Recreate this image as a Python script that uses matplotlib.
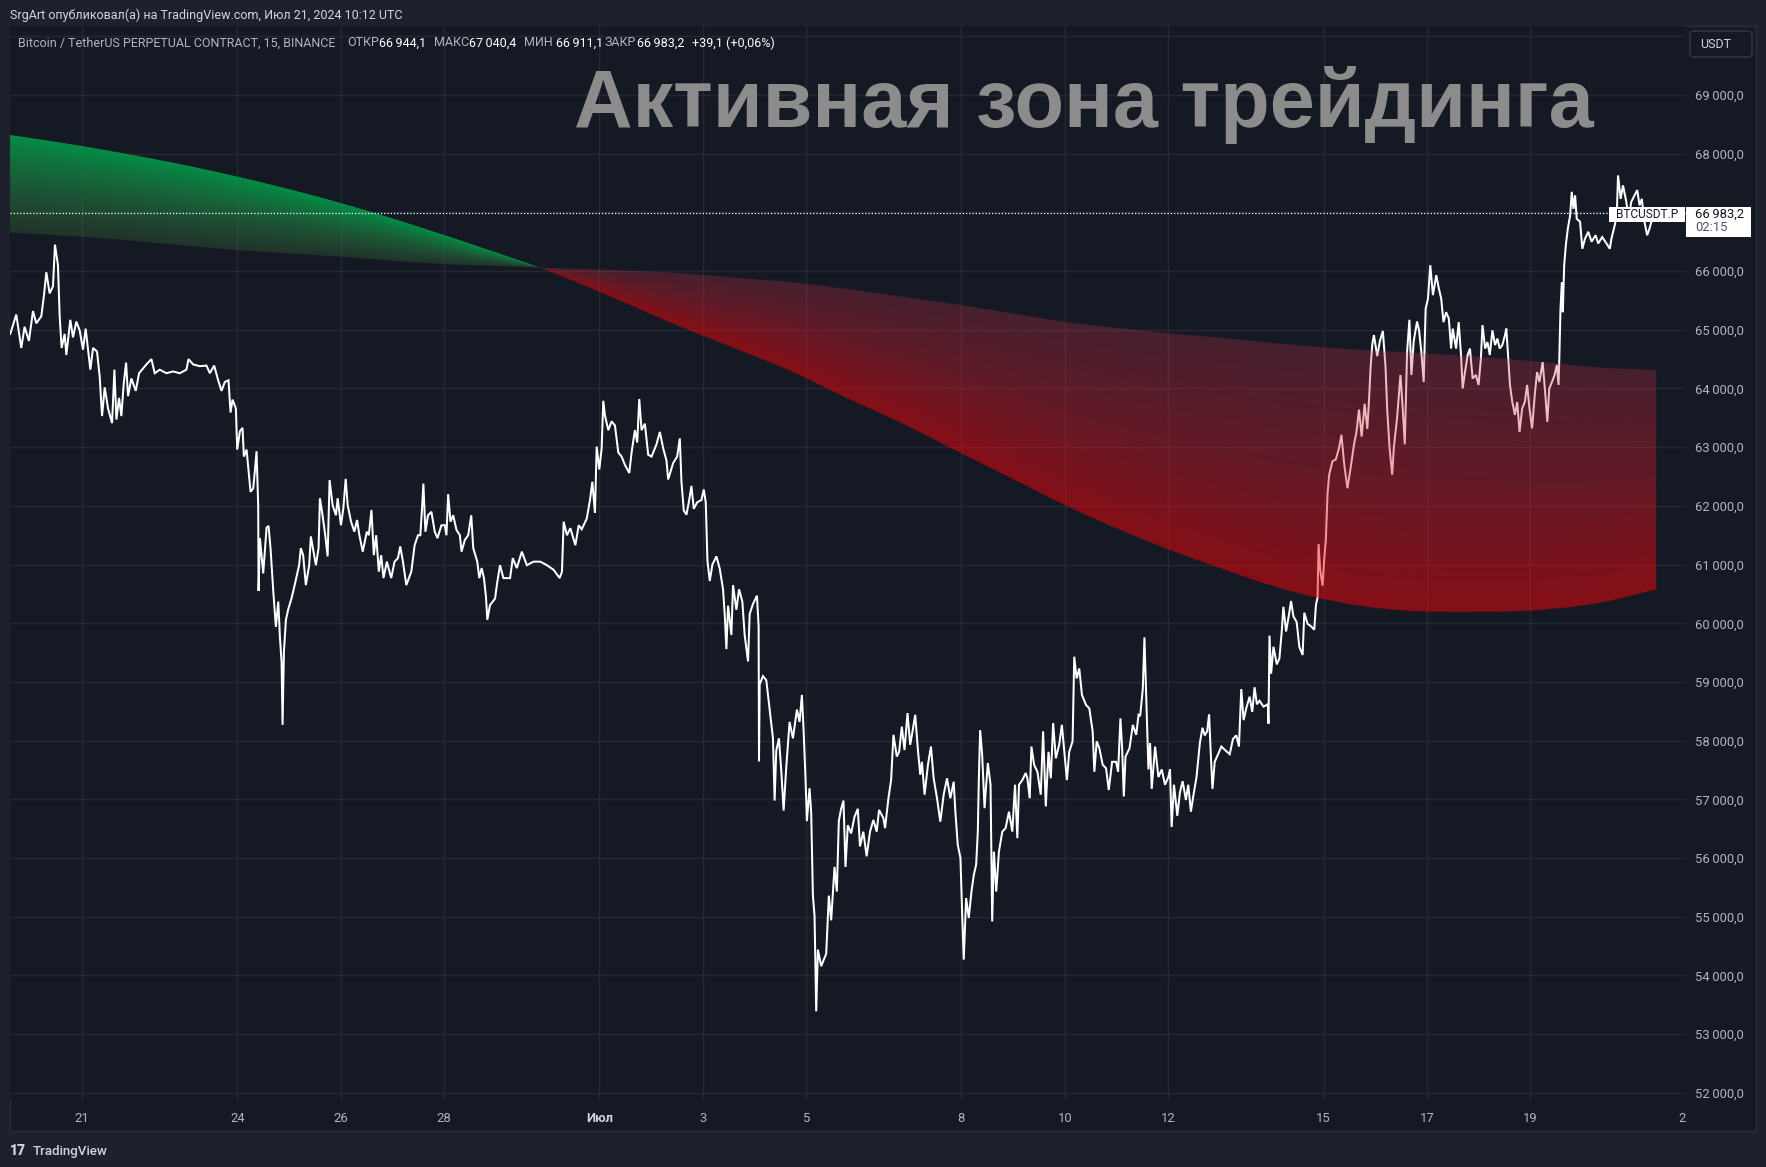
import numpy as np
import matplotlib
matplotlib.use("Agg")
import matplotlib.pyplot as plt
from matplotlib.patches import Rectangle, FancyBboxPatch
from matplotlib.ticker import FixedLocator, FuncFormatter

W, H = 1766, 1167

# BTCUSDT.P 15m closes; x = day counted from 1 June 2024 (Jul 1 = 31)
days_a = [19.613, 19.665, 19.729, 19.826, 19.890, 19.974, 20.052, 20.116, 20.213, 20.265,
          20.310, 20.374, 20.439, 20.477, 20.535, 20.568, 20.606, 20.665, 20.697, 20.774,
          20.826, 20.890, 20.955, 21.019, 21.071, 21.161, 21.213, 21.290, 21.342, 21.387,
          21.439, 21.503, 21.581, 21.626, 21.665, 21.716, 21.761, 21.806, 21.852, 21.890,
          21.955, 22.039, 22.103, 22.245, 22.342, 22.406, 22.503, 22.632, 22.761, 22.890,
          23.019, 23.058, 23.148, 23.277, 23.406, 23.471, 23.555, 23.632, 23.697, 23.761,
          23.832, 23.871, 23.910, 23.974, 24.000, 24.052, 24.103, 24.129, 24.181, 24.213,
          24.258, 24.310, 24.342, 24.374, 24.406, 24.413, 24.439, 24.503, 24.568, 24.606,
          24.645, 24.697, 24.748, 24.794, 24.826, 24.858, 24.877, 24.903, 24.942, 24.987,
          25.052, 25.116]
close_a = [64930, 65080, 65260, 64690, 65050, 64810, 65320, 65110, 65230, 65590,
           65980, 65620, 65740, 66450, 66100, 65230, 64690, 64930, 64570, 65170,
           64870, 65140, 64990, 64660, 65020, 64320, 64690, 64630, 64200, 63530,
           64020, 63660, 63410, 64320, 63470, 63840, 63530, 64080, 64440, 63870,
           64170, 63960, 64260, 64410, 64500, 64260, 64320, 64260, 64290, 64260,
           64320, 64500, 64410, 64380, 64390, 64260, 64390, 64140, 63960, 64110,
           64140, 63590, 63810, 63660, 62960, 63270, 63330, 62840, 62960, 62660,
           62240, 62300, 62600, 62930, 62000, 60550, 61450, 60850, 61630, 61660,
           61270, 60550, 59940, 60370, 59760, 59340, 58270, 59520, 60060, 60240,
           60430, 60670]

days_b = [25.197, 25.230, 25.275, 25.327, 25.392, 25.424, 25.476, 25.521, 25.573, 25.599,
          25.650, 25.702, 25.748, 25.786, 25.845, 25.909, 25.942, 26.006, 26.052, 26.097,
          26.136, 26.201, 26.265, 26.317, 26.362, 26.427, 26.505, 26.544, 26.595, 26.641,
          26.686, 26.738, 26.783, 26.828, 26.893, 26.977, 27.042, 27.107, 27.152, 27.204,
          27.269, 27.366, 27.430, 27.495, 27.540, 27.573, 27.599, 27.638, 27.689, 27.754,
          27.819, 27.871, 27.948, 28.013, 28.045, 28.078, 28.123, 28.175, 28.239, 28.304,
          28.337, 28.401, 28.466, 28.524, 28.563, 28.641, 28.680, 28.725, 28.770, 28.809,
          28.835, 28.887, 28.984, 29.029, 29.081, 29.146, 29.275, 29.327, 29.405, 29.502,
          29.599, 29.728, 29.858, 29.987, 30.117, 30.233, 30.278, 30.311, 30.375, 30.440,
          30.537, 30.602]
close_b = [60990, 61280, 61160, 60650, 60990, 61480, 61220, 60990, 61280, 62130,
           61840, 61500, 61140, 62440, 62010, 61840, 62130, 61670, 61960, 62460,
           62010, 61730, 61560, 61760, 61500, 61220, 61560, 61500, 61930, 61160,
           61500, 60880, 61160, 60770, 61050, 60770, 61050, 61110, 61310, 61050,
           60650, 60880, 61330, 61500, 61500, 61960, 62380, 61560, 61840, 61900,
           61560, 61450, 61670, 61670, 61500, 62200, 61730, 61840, 61590, 61500,
           61220, 61420, 61500, 61840, 61280, 61050, 60770, 60940, 60770, 60450,
           60060, 60310, 60420, 60710, 60990, 60770, 60770, 61110, 60940, 61220,
           60990, 61050, 61050, 60990, 60910, 60770, 60880, 61730, 61500, 61620,
           61330, 61670]

days_c = [30.659, 30.756, 30.820, 30.865, 30.916, 30.949, 31.000, 31.045, 31.077, 31.109,
          31.174, 31.238, 31.302, 31.367, 31.431, 31.495, 31.579, 31.624, 31.688, 31.733,
          31.772, 31.817, 31.881, 31.945, 32.010, 32.106, 32.170, 32.235, 32.299, 32.331,
          32.428, 32.505, 32.556, 32.588, 32.633, 32.685, 32.730, 32.781, 32.826, 32.891,
          32.974, 33.019, 33.058, 33.090, 33.135, 33.186, 33.264, 33.328, 33.392, 33.424,
          33.457, 33.489, 33.553, 33.585, 33.650, 33.701, 33.765, 33.810, 33.875, 33.907,
          33.971, 34.048, 34.080, 34.087, 34.100, 34.164, 34.228, 34.293, 34.357, 34.389,
          34.421, 34.473, 34.518, 34.563, 34.614, 34.678, 34.743, 34.820, 34.871, 34.916,
          34.949, 34.987, 35.013, 35.064, 35.096, 35.129, 35.161, 35.193, 35.225, 35.289,
          35.354, 35.386, 35.437, 35.482, 35.547, 35.592, 35.630, 35.675, 35.720, 35.759,
          35.804, 35.868, 35.932, 35.997]
close_c = [61600, 61780, 62100, 62410, 61880, 63010, 62620, 62980, 63790, 63540,
           63290, 63440, 63370, 62910, 62840, 62700, 62560, 62910, 63290, 63080,
           63820, 63290, 63400, 62870, 62840, 63050, 63260, 62980, 62770, 62450,
           62730, 62840, 63150, 62410, 61920, 61850, 62060, 62340, 61950, 62060,
           62100, 62280, 62060, 61070, 60720, 61000, 61140, 60930, 60580, 60160,
           59560, 60300, 59800, 60650, 60230, 60580, 60370, 59800, 59350, 60160,
           60330, 60470, 59940, 57650, 58960, 59100, 59030, 58530, 58040, 56980,
           57830, 58040, 57480, 56810, 57550, 58320, 58040, 58530, 58320, 58780,
           58180, 57330, 56630, 57190, 56770, 55360, 55010, 53390, 54440, 54160,
           54300, 54370, 55360, 54940, 55850, 55430, 56630, 56840, 56980, 55850,
           56560, 56420, 56700, 56840]

days_d = [36.039, 36.104, 36.168, 36.233, 36.298, 36.362, 36.408, 36.492, 36.524, 36.589,
          36.641, 36.686, 36.751, 36.796, 36.848, 36.900, 36.958, 37.010, 37.055, 37.107,
          37.159, 37.204, 37.236, 37.288, 37.353, 37.411, 37.463, 37.528, 37.592, 37.657,
          37.722, 37.786, 37.851, 37.883, 37.929, 37.981, 38.013, 38.045, 38.091, 38.142,
          38.194, 38.239, 38.285, 38.317, 38.337, 38.362, 38.401, 38.447, 38.479, 38.511,
          38.563, 38.595, 38.628, 38.673, 38.725, 38.790, 38.854, 38.919, 38.984, 39.036,
          39.081, 39.113, 39.178, 39.243, 39.275, 39.320, 39.353, 39.405, 39.469, 39.534,
          39.579, 39.631, 39.683, 39.728, 39.773, 39.825, 39.890, 39.942, 39.994, 40.039,
          40.084, 40.149, 40.181, 40.227, 40.278, 40.330, 40.408, 40.472, 40.537, 40.570,
          40.615, 40.667, 40.731, 40.796, 40.848, 40.913, 40.990, 41.029, 41.074, 41.107,
          41.139, 41.172, 41.249, 41.314, 41.379, 41.424]
close_d = [56200, 56450, 56030, 56450, 56650, 56450, 56820, 56680, 56510, 57020,
           57330, 58100, 57730, 57810, 58240, 57840, 58470, 57930, 58160, 58440,
           57840, 57420, 57640, 57080, 57590, 57900, 57360, 57020, 56620, 57080,
           57360, 57020, 57300, 56790, 56230, 56000, 55090, 54270, 55320, 54980,
           55430, 55710, 55890, 56450, 57360, 58180, 57760, 56850, 57250, 57620,
           57250, 54920, 56110, 55430, 56110, 56450, 56510, 56790, 56450, 57250,
           56340, 57250, 57330, 57450, 57360, 57020, 57900, 57590, 57470, 57080,
           58160, 56880, 57810, 57360, 58300, 57700, 57930, 58270, 57760, 57330,
           57810, 57990, 59430, 59060, 59230, 58780, 58610, 58550, 58160, 57470,
           57990, 57870, 57590, 57530, 57160, 57640, 57640, 57470, 58380, 57870,
           57050, 57730, 57870, 58270, 58100, 58440]

days_e = [41.455, 41.506, 41.538, 41.571, 41.615, 41.647, 41.679, 41.744, 41.808, 41.872,
          41.936, 42.000, 42.032, 42.064, 42.109, 42.173, 42.224, 42.276, 42.340, 42.385,
          42.436, 42.481, 42.545, 42.609, 42.660, 42.705, 42.750, 42.788, 42.814, 42.853,
          42.897, 42.962, 43.026, 43.109, 43.186, 43.250, 43.314, 43.365, 43.410, 43.455,
          43.506, 43.571, 43.622, 43.667, 43.712, 43.763, 43.840, 43.923, 43.936, 43.955,
          43.987, 44.032, 44.096, 44.147, 44.192, 44.224, 44.276, 44.327, 44.372, 44.417,
          44.481, 44.532, 44.596, 44.628, 44.692, 44.756, 44.821, 44.853, 44.885, 44.904,
          44.936, 44.981, 45.013, 45.045, 45.077, 45.109, 45.173, 45.237, 45.301, 45.346,
          45.397, 45.462, 45.526, 45.590, 45.635, 45.686, 45.737, 45.795, 45.846, 45.878,
          45.910, 45.942, 45.974, 46.038, 46.090, 46.147, 46.199, 46.231, 46.276, 46.327,
          46.359, 46.423, 46.487, 46.532, 46.571, 46.615, 46.660, 46.699, 46.744, 46.808]
close_e = [58420, 58880, 59760, 58810, 57510, 57960, 57180, 57900, 57380, 57510,
           57250, 57380, 57510, 56530, 57250, 56720, 57120, 57310, 56990, 57250,
           56790, 57050, 57380, 57960, 58220, 58090, 58160, 58450, 57900, 57180,
           57640, 57770, 57900, 57830, 57770, 58030, 58090, 57900, 58880, 58350,
           58550, 58750, 58490, 58910, 58620, 58680, 58580, 58620, 58290, 59790,
           59140, 59600, 59300, 59400, 59860, 60280, 59860, 60120, 60380, 60120,
           60020, 59600, 59460, 60180, 59990, 59950, 59890, 60310, 60440, 61350,
           60900, 60640, 61090, 61420, 62200, 62530, 62760, 62790, 62990, 63210,
           62730, 62300, 62660, 63050, 63250, 63640, 63180, 63740, 63310, 63780,
           64360, 64750, 64910, 64550, 64810, 64980, 64360, 63640, 62990, 62530,
           62990, 63510, 64230, 63640, 63050, 64620, 65170, 64230, 64810, 65140]

days_f = [46.847, 46.891, 46.936, 46.974, 47.019, 47.064, 47.115, 47.179, 47.230, 47.275,
          47.319, 47.371, 47.422, 47.466, 47.498, 47.562, 47.613, 47.658, 47.690, 47.735,
          47.786, 47.831, 47.882, 47.946, 47.997, 48.042, 48.073, 48.125, 48.169, 48.214,
          48.265, 48.316, 48.361, 48.406, 48.457, 48.508, 48.534, 48.572, 48.604, 48.649,
          48.700, 48.744, 48.789, 48.840, 48.891, 48.936, 48.981, 49.032, 49.083, 49.128,
          49.173, 49.236, 49.288, 49.326, 49.364, 49.415, 49.466, 49.511, 49.543, 49.556,
          49.581, 49.607, 49.626, 49.652, 49.684, 49.722, 49.767, 49.799, 49.831, 49.863,
          49.895, 49.959, 50.003, 50.054, 50.118, 50.182, 50.259, 50.310, 50.387, 50.470,
          50.534, 50.565, 50.629, 50.668, 50.693, 50.744, 50.789, 50.853, 50.898, 50.949,
          51.013, 51.064, 51.109, 51.153, 51.204, 51.256, 51.300, 51.345, 51.383]
close_f = [64990, 64620, 64110, 65360, 65530, 66100, 65590, 65930, 65700, 65530,
           65130, 65300, 65190, 64680, 65020, 64680, 65130, 64570, 64000, 64280,
           64570, 64680, 64170, 64230, 64060, 64510, 65080, 64680, 64790, 64570,
           64990, 64740, 64850, 64680, 64740, 64910, 65020, 64510, 64060, 63770,
           63550, 63770, 63260, 63660, 63770, 64060, 63660, 63320, 63890, 64280,
           64110, 64450, 63890, 63430, 64000, 64110, 64230, 64400, 64060, 64450,
           65360, 65810, 65300, 66100, 66440, 66720, 66950, 67350, 67060, 67290,
           66890, 66840, 66380, 66550, 66670, 66500, 66610, 66470, 66580, 66470,
           66380, 66550, 66780, 66950, 67630, 67230, 67460, 67180, 66890, 67180,
           67290, 67380, 67120, 67230, 66840, 66610, 66720, 66860, 66983.2]

# the two averages of the ribbon (fast: green top -> red bottom, slow: the other edge)
band_days = [19.61, 21.0, 24.0, 26.0, 28.0, 29.03, 29.85, 31.17, 32.48, 33.57, 34.65, 35.74,
             36.83, 37.91, 39.0, 40.09, 41.05, 42.0, 43.07, 43.97, 45.02, 45.9, 46.87, 47.72,
             49.24, 50.32, 51.43]
fast_ma = [68320, 68130, 67610, 67160, 66615, 66310, 66060, 65585, 65086, 64702, 64318, 63858,
           63417, 62937, 62457, 61978, 61600, 61260, 60920, 60650, 60410, 60275, 60205, 60195,
           60232, 60347, 60577]
slow_ma = [66655, 66585, 66360, 66245, 66120, 66086, 66060, 66020, 65968, 65892, 65815, 65700,
           65566, 65431, 65278, 65124, 65030, 64940, 64860, 64780, 64700, 64650, 64600, 64560,
           64450, 64360, 64315]

x_ticks = [21, 24, 26, 28, 31, 33, 35, 38, 40, 42, 45, 47, 49, 52]
x_labels = ["21", "24", "26", "28", "Июл", "3", "5", "8", "10", "12", "15", "17", "19", "2"]
y_ticks = list(range(52000, 70001, 1000))
ohlc = [66944.1, 67040.4, 66911.1, 66983.2]
change, change_pct = 39.1, 0.06

outer_bg = "#1e212b"
chart_bg = "#151924"
grid_c = "#252935"
txt_c = "#b2b5be"
light_c = "#d1d4dc"


def ru(v):
    return f"{v:,.1f}".replace(",", "\u2009").replace(".", ",")


def fx(x):
    return x / W


def fy(y):
    return 1 - y / H


def hermite(xk, yk, xs):
    # smooth curve through the read points (cubic hermite, finite-difference slopes)
    xk = np.asarray(xk, float)
    yk = np.asarray(yk, float)
    m = np.gradient(yk, xk)
    i = np.clip(np.searchsorted(xk, xs) - 1, 0, len(xk) - 2)
    h = xk[i + 1] - xk[i]
    s = (xs - xk[i]) / h
    return ((2 * s**3 - 3 * s**2 + 1) * yk[i] + (s**3 - 2 * s**2 + s) * h * m[i]
            + (-2 * s**3 + 3 * s**2) * yk[i + 1] + (s**3 - s**2) * h * m[i + 1])


plt.rcParams['font.family'] = ['Roboto', 'DejaVu Sans']

fig = plt.figure(figsize=(W / 100, H / 100), dpi=100, facecolor=outer_bg)

# chart panel (behind the axes)
fig.patches.append(Rectangle((fx(10), fy(1131)), (1756 - 10) / W, (1131 - 26) / H,
                             transform=fig.transFigure, facecolor=chart_bg,
                             edgecolor="#2b2f3a", lw=1, zorder=-10))

ax = fig.add_axes([fx(10), fy(1100), (1686 - 10) / W, (1100 - 26) / H])
ax.set_zorder(1)
ax.set_facecolor(chart_bg)
for s in ax.spines.values():
    s.set_visible(False)

days = np.concatenate([days_a, days_b, days_c, days_d, days_e, days_f])
close = np.concatenate([close_a, close_b, close_c, close_d, close_e, close_f])
ax.plot(days, close, color="white", lw=1.45, zorder=2, solid_joinstyle="miter")

# gradient ribbon, colour goes from the slow edge to the fast edge in every column
gx = np.linspace(band_days[0], band_days[-1], 1800)
gy = np.linspace(59800, 68600, 900)
Fs = hermite(band_days, fast_ma, gx)
Ss = hermite(band_days, slow_ma, gx)
F = Fs[None, :]
S = Ss[None, :]
Y = gy[:, None]
d = F - S
d = np.where(np.abs(d) < 1, 1, d)
t = np.clip((Y - S) / d, 0, 1)[..., None]
g_fast = np.array([0, 160, 75, 0.86 * 255]) / 255
g_slow = np.array([60, 115, 60, 0.30 * 255]) / 255
r_fast = np.array([246, 5, 10, 0.51 * 255]) / 255
r_slow = np.array([201, 48, 73, 0.28 * 255]) / 255
green = g_slow + t * (g_fast - g_slow)
red = r_slow + t * (r_fast - r_slow)
rgba = np.where((F > S)[..., None], green, red)
im = ax.imshow(rgba, extent=[gx[0], gx[-1], gy[0], gy[-1]], origin="lower",
               aspect="auto", interpolation="bilinear", zorder=3)
poly = ax.fill_between(gx, Fs, Ss, facecolor="none", edgecolor="none")
im.set_clip_path(poly.get_paths()[0], transform=ax.transData)

ax.axhline(ohlc[3], color="white", lw=0.9, ls=(0, (1, 1.6)), zorder=4)

ax.set_xlim(19.608, 52.007)
ax.set_ylim(51879, 70175)

ax.xaxis.set_major_locator(FixedLocator(x_ticks))
ax.set_xticklabels(x_labels)
ax.yaxis.set_major_locator(FixedLocator(y_ticks))
ax.yaxis.set_major_formatter(FuncFormatter(lambda v, p: ru(v) if v < 69500 else ""))
ax.grid(True, color=grid_c, lw=1, zorder=0)
ax.set_axisbelow(True)
ax.tick_params(axis="x", length=0, pad=9, labelsize=9.4, labelcolor=txt_c)
ax.tick_params(axis="y", length=0, pad=6.5, labelsize=9.4, labelcolor=txt_c,
               left=False, labelleft=False, right=True, labelright=True)
for lab in ax.get_xticklabels():
    if lab.get_text() == "Июл":
        lab.set_fontweight("bold")
        lab.set_color(light_c)
ax.get_xticklabels()[-1].set_ha("right")

# big caption
fig.text(fx(1084), fy(127), "Активная зона трейдинга", ha="center", va="baseline",
         fontsize=58.4, fontweight="bold", color="#8c8c8c", family=["Liberation Sans", "DejaVu Sans"],
         zorder=6)

# header line
fig.text(fx(10), fy(15.5), "SrgArt опубликовал(а) на TradingView.com, Июл 21, 2024 10:12 UTC",
         ha="left", va="center", fontsize=9, color=light_c)

# legend row
sign = "+" if change >= 0 else "-"
pieces = [("Bitcoin / TetherUS PERPETUAL CONTRACT, 15, BINANCE", 18, txt_c),
          ("ОТКР", 347, txt_c), (ru(ohlc[0]), 378.6, "white"),
          ("МАКС", 434, txt_c), (ru(ohlc[1]), 469, "white"),
          ("МИН", 524, txt_c), (ru(ohlc[2]), 556, "white"),
          ("ЗАКР", 604.6, txt_c), (ru(ohlc[3]), 637, "white"),
          (f"{sign}{ru(change)} ({sign}{change_pct:.2f}%)".replace(".", ","), 692, "white")]
for s, x, c in pieces:
    fig.text(fx(x), fy(43), s, ha="left", va="center", fontsize=9, color=c, zorder=6)

# currency box
fig.patches.append(FancyBboxPatch((fx(1690), fy(57)), 62 / W, 26 / H,
                                  boxstyle="round,pad=0,rounding_size=0.003",
                                  transform=fig.transFigure, facecolor=chart_bg,
                                  edgecolor="#363a45", lw=1, zorder=5))
fig.text(fx(1700), fy(44), "USDT", ha="left", va="center", fontsize=9, color=light_c, zorder=6)

# last price labels
fig.patches.append(Rectangle((fx(1609), fy(222)), 76 / W, 15 / H, transform=fig.transFigure,
                             facecolor="white", edgecolor="none", zorder=5))
fig.text(fx(1647), fy(214.5), "BTCUSDT.P", ha="center", va="center", fontsize=8.6,
         color="#131722", zorder=6)
fig.patches.append(Rectangle((fx(1686), fy(237)), 65 / W, 30 / H, transform=fig.transFigure,
                             facecolor="white", edgecolor="none", zorder=5))
fig.text(fx(1695), fy(214), ru(ohlc[3]), ha="left", va="center", fontsize=9.4,
         color="#131722", zorder=6)
fig.text(fx(1695), fy(228), "02:15", ha="left", va="center", fontsize=9.4,
         color="#50535e", zorder=6)

# footer
fig.text(fx(10), fy(1151), "17", ha="left", va="center", fontsize=10, fontweight="heavy",
         color=light_c)
fig.text(fx(33), fy(1151), "TradingView", ha="left", va="center", fontsize=9.6,
         fontweight="medium", color=light_c)

fig.savefig("out.png", dpi=100, facecolor=outer_bg)
